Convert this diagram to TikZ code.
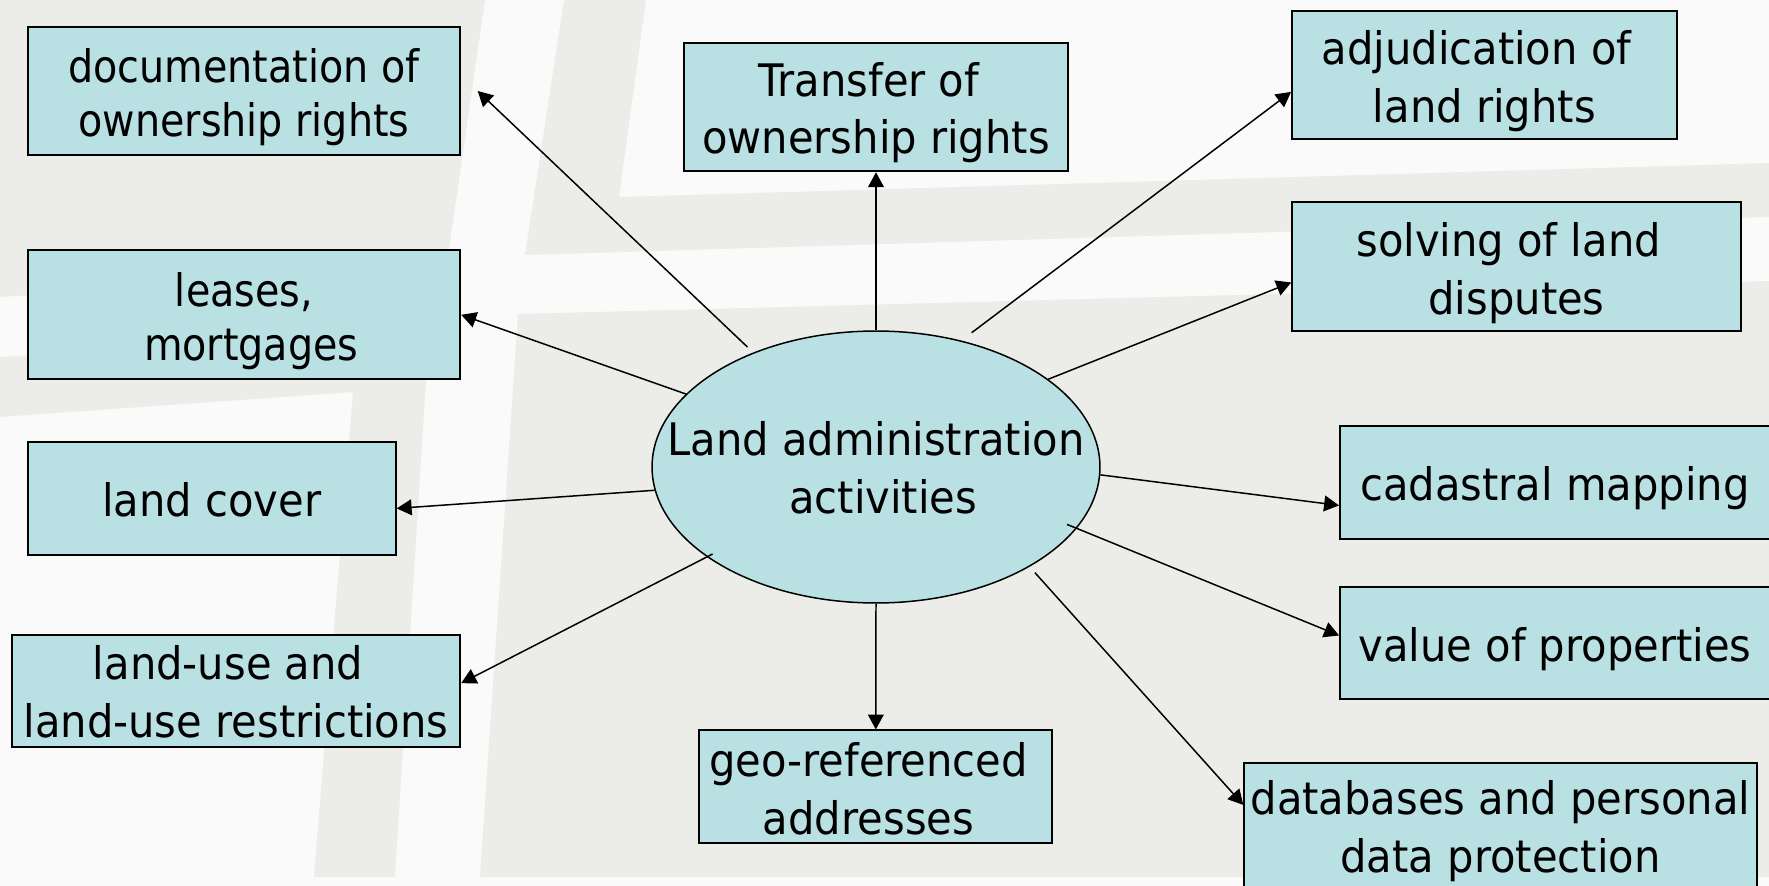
\documentclass[tikz,border=0pt]{standalone}
\usepackage{fontspec}
\setmainfont{DejaVu Sans}[FakeStretch=0.93]
\newfontfamily\tightfont{DejaVu Sans}[FakeStretch=0.885]
\usetikzlibrary{arrows.meta,shapes.geometric}
\definecolor{paper}{RGB}{250,250,250}
\definecolor{street}{RGB}{236,237,232}
\definecolor{boxfill}{RGB}{185,224,227}
\newcommand{\droptext}[1]{\rule{0pt}{#1}}
\tikzset{
  stripe/.style={fill=street,draw=none},
  topic/.style={draw,line width=1.15pt,fill=boxfill,inner sep=0pt,align=center,font=\fontsize{25.5}{33}\selectfont},
  hubnode/.style={ellipse,draw,line width=0.85pt,fill=boxfill,inner xsep=-29pt,inner ysep=0pt,align=center,font=\fontsize{25.5}{33}\selectfont},
  link/.style={line width=0.85pt,-{Triangle[length=8.5pt,width=9pt]}}
}
\begin{document}
\begin{tikzpicture}[x=0.02cm,y=-0.02cm]
  \useasboundingbox (0,0) rectangle (1769,886);
  \clip (0,0) rectangle (1769,886);
  \fill[paper] (0,0) rectangle (1769,886);
  \fill[stripe] (0,0) -- (485,0) -- (446,270) -- (0,297) -- cycle;
  \fill[stripe] (0,357) -- (429,333) -- (395,877) -- (314,877) -- (353,392) -- (0,417) -- cycle;
  \fill[stripe] (518,314) -- (1769,281) -- (1769,877) -- (480,877) -- cycle;
  \fill[stripe] (564,0) -- (646,0) -- (619,197) -- (1769,163) -- (1769,217) -- (525,255) -- cycle;

  \node[hubnode,minimum width=8.96cm,minimum height=5.44cm] (hub) at (876,467) {\droptext{20.8pt}Land administration\\\hspace*{8.3pt}activities};

  \node[topic,minimum width=8.65cm,minimum height=2.56cm] (doc) at (244,91) {\tightfont\droptext{26.4pt}documentation of\\[-2.5pt]\tightfont ownership rights};
  \node[topic,minimum width=7.69cm,minimum height=2.57cm] (transfer) at (876,107) {\droptext{25.8pt}Transfer of\hspace*{8.3pt}\\ownership rights};
  \node[topic,minimum width=7.69cm,minimum height=2.57cm] (adj) at (1484.3,75) {\droptext{26.4pt}adjudication of\hspace*{9pt}\\land rights};
  \node[topic,minimum width=8.97cm,minimum height=2.57cm] (solving) at (1516.5,266.7) {\droptext{27pt}solving of land\hspace*{9pt}\\disputes};
  \node[topic,minimum width=8.6cm,minimum height=2.25cm] (cadastre) at (1555,482.7) {\droptext{25.8pt}cadastral mapping};
  \node[topic,minimum width=8.6cm,minimum height=2.25cm] (value) at (1555,643) {\droptext{25.8pt}value of properties};
  \node[topic,minimum width=10.25cm,minimum height=2.58cm] (data) at (1500.5,827.4) {\droptext{23.8pt}databases and personal\\data protection};
  \node[topic,minimum width=7.06cm,minimum height=2.25cm] (geo) at (875.8,786.7) {\droptext{22pt}geo-referenced\hspace*{8.3pt}\\addresses\hspace*{8.3pt}};
  \node[topic,minimum width=8.65cm,minimum height=2.58cm] (leases) at (244,314.8) {\tightfont\droptext{26.4pt}leases,\\[-2.5pt]\tightfont\hspace*{8.3pt}mortgages};
  \node[topic,minimum width=7.36cm,minimum height=2.25cm] (cover) at (211.7,498.7) {\droptext{20.6pt}land cover};
  \node[topic,minimum width=8.97cm,minimum height=2.25cm] (use) at (236,691) {\droptext{20.6pt}land-use and\hspace*{9pt}\\land-use restrictions};

  \draw[link,shorten <=4.5pt] (hub.137) -- ([xshift=0.33cm]doc.east);
  \draw[link] (hub.159.4) -- (leases.east);
  \draw[link] (hub.north) -- (transfer.south);
  \draw[link,shorten <=7.4pt] (hub.56) -- (adj.185);
  \draw[link] (hub.27) -- (solving.184);
  \draw[link] (hub.358) -- (cadastre.186.1);
  \draw[link,shorten <=-6pt] (hub.343.9) -- (value.178);
  \draw[link,shorten <=4.5pt] (hub.327) -- (data.175.9);
  \draw[link] (hub.south) -- (geo.north);
  \draw[link] (hub.186.1) -- (cover.357.6);
  \draw[link,shorten <=-3.7pt] (hub.208) -- (use.2.2);
\end{tikzpicture}
\end{document}
